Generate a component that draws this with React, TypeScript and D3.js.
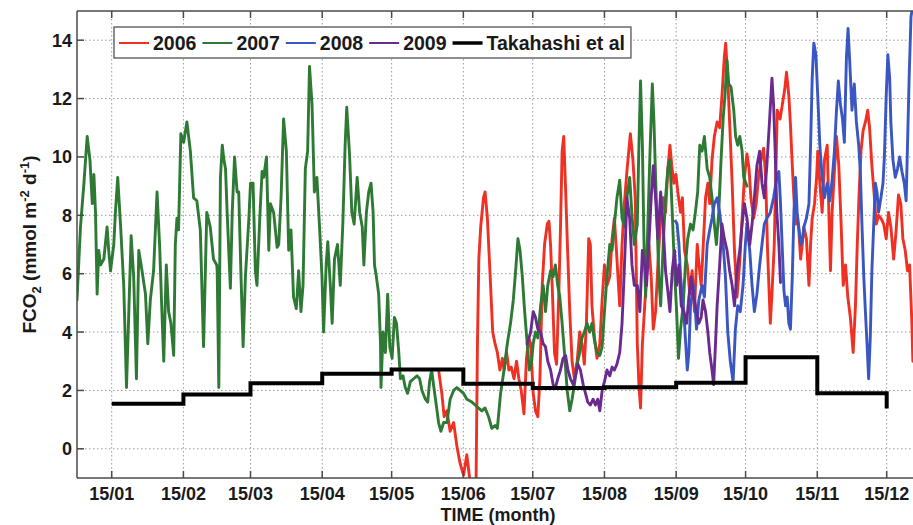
import React, { useEffect, useRef } from "react";
import * as d3 from "d3";

// x axis: day of (leap) year
const monthTickDays = [15, 46, 75, 106, 136, 167, 197, 228, 259, 289, 320, 350];
const monthTickLabels = ["15/01", "15/02", "15/03", "15/04", "15/05", "15/06", "15/07", "15/08", "15/09", "15/10", "15/11", "15/12"];
const yTickValues = [0, 2, 4, 6, 8, 10, 12, 14];

// Takahashi climatology (monthly levels, from 15th to 15th)
const takahashiStartDays = [15, 46, 75, 106, 136, 167, 197, 228, 259, 289, 320, 350];
const takahashiLevels = [1.54, 1.86, 2.25, 2.57, 2.72, 2.23, 2.08, 2.11, 2.26, 3.14, 1.9];
const takahashiEndValue = 1.38;

const series2006: [number, number][] = [
  [156.3,2.7],[157.7,1.9],[158.7,1.1],[159.9,1.3],[161.3,0.6],[162.8,0.9],[164.2,0.1],[165.6,-0.5],[167.1,-0.9],[168.5,-0.2],[170.0,-1.2],[171.4,-2.0],[172.5,-1.2],[173.1,3.6],[173.7,6.5],[174.5,7.6],[175.7,8.6],[176.4,8.8],[177.4,7.9],[178.6,5.9],[179.7,4.0],[180.7,3.6],
  [181.7,3.3],[182.8,2.7],[183.9,3.1],[184.6,2.7],[185.7,3.3],[186.7,2.7],[187.7,2.8],[188.9,2.4],[190.0,3.0],[191.0,2.4],[192.0,2.0],[193.2,1.2],[194.3,3.1],[195.3,3.8],[196.1,3.6],[197.2,1.9],[198.2,1.3],[199.2,1.1],[200.1,2.4],[201.1,5.6],[202.1,7.0],[203.3,7.7],[204.0,7.8],[204.7,7.0],[205.4,5.6],[206.4,3.3],[207.3,2.9],[208.3,5.4],[209.0,7.6],[209.7,10.2],[210.4,10.7],[211.2,8.9],[211.9,7.2],[213.0,4.7],[214.0,3.0],[215.0,2.4],[216.2,3.0],[217.3,4.0],[218.3,3.6],[219.3,2.9],[220.2,4.3],[221.2,7.2],[221.9,7.0],[222.6,4.9],[223.7,3.8],[224.8,3.1],[226.0,3.6],[227.0,5.1],[228.0,6.3],[229.1,5.6],[230.3,5.9],[231.3,7.2],[232.3,7.9],[233.4,6.5],[234.6,4.9],[235.6,7.0],[236.6,8.4],[237.7,9.5],[239.2,10.8],[240.3,9.9],[241.3,8.6],
  [242.2,3.6],[242.9,2.2],[243.6,1.4],[244.4,3.6],[245.4,4.9],[246.2,5.9],[247.2,7.0],[248.2,5.9],[249.1,4.1],[250.1,4.7],[251.1,6.3],[252.3,7.9],[253.4,8.6],[254.4,8.1],[255.4,9.6],[256.3,10.4],[257.1,9.7],[258.0,9.1],[258.9,9.4],[259.7,8.8],[260.9,8.1],[261.7,8.6],[262.6,6.8],[263.8,6.3],[264.9,5.3],[265.9,6.1],[266.9,4.7],[268.1,7.0],[268.9,6.3],[269.8,5.6],[270.6,6.8],[271.7,8.6],[272.7,9.1],[273.5,8.4],[274.5,9.9],[275.5,10.7],[276.7,11.2],[277.8,11.0],[278.8,12.1],[279.8,13.4],[280.4,13.9],[281.3,12.7],[282.1,11.2],[283.2,9.1],[284.2,6.8],[285.3,5.2],[286.5,6.4],[287.5,7.9],[288.5,9.3],[289.6,10.1],[290.5,9.6],[291.3,8.6],[292.5,7.9],[293.6,8.4],[294.6,9.3],[295.7,9.9],[296.8,10.3],[297.7,9.3],[298.5,6.8],[299.7,4.3],[300.4,5.3],[301.4,7.0],
  [302.7,11.6],[303.9,11.3],[304.9,11.8],[305.9,12.3],[306.7,12.9],[307.7,12.1],[308.4,11.1],[309.2,9.7],[309.9,8.6],[310.6,7.7],[311.3,7.9],[312.0,7.5],[312.8,6.5],[313.5,7.0],[314.2,7.6],[315.3,7.2],[316.4,5.6],[317.1,7.0],[317.8,7.9],[318.8,8.4],[319.7,9.3],[320.2,10.2],[321.1,9.1],[322.1,8.1],[323.1,9.9],[324.3,10.4],[325.0,8.1],[325.7,6.1],[326.4,8.1],[327.4,9.5],[328.3,10.7],[329.3,9.7],[330.3,7.7],[331.2,5.6],[332.2,6.3],[333.2,5.2],[334.3,4.5],[335.5,3.3],[336.5,4.9],[337.2,6.8],[338.0,8.6],[338.9,10.2],[339.8,10.9],[340.8,11.2],[341.8,11.6],[342.6,11.0],[343.6,9.7],[344.7,8.6],[345.5,7.7],[346.5,8.0],[347.5,7.9],[348.7,7.7],[349.8,7.2],[350.8,8.1],[351.8,7.6],[353.0,6.5],[354.1,7.5],[355.1,8.7],[356.1,8.4],[357.0,7.2],[358.0,6.8],[359.0,6.1],[359.9,6.3],[360.9,4.3],[361.3,3.0]
];

const series2007: [number, number][] = [
  [0,5.1],[1.5,7.6],[3.0,9.1],[4.4,10.7],[5.6,9.9],[6.6,8.4],[7.3,9.4],[8.0,8.1],[8.7,5.3],[9.4,6.8],[10.2,6.3],[11.6,6.5],[13.0,7.6],[13.7,6.8],[14.5,6.1],[15.9,7.0],[16.6,8.1],[17.6,9.3],[18.8,7.7],[20.2,5.6],[21.4,2.1],[22.4,4.7],[23.4,7.3],[24.5,5.9],[25.7,2.4],[26.7,6.8],[28.1,6.1],[29.6,5.3],[30.6,3.6],[31.7,5.1],[33.1,6.1],[34.6,8.8],[35.7,7.0],[36.7,4.7],[37.5,3.0],[38.6,6.3],[39.6,4.7],[40.6,4.3],[41.8,3.2],[42.5,7.0],[43.2,7.9],[43.9,7.5],[44.9,10.8],[46.1,10.5],[47.5,11.2],[49.0,10.2],[50.4,8.6],[51.8,8.5],[53.3,7.5],[54.7,3.5],[56.1,8.1],[57.6,7.6],[59.0,6.5],[60.4,6.3],
  [60.6,6.1],[61.3,2.1],[62.0,9.3],[62.8,10.4],[63.5,9.9],[64.2,9.6],[64.9,8.1],[66.3,5.5],[67.1,8.1],[68.1,10.0],[69.2,8.8],[69.9,8.8],[70.9,5.9],[71.8,3.5],[72.8,5.9],[74.3,7.9],[75.0,9.1],[76.1,9.1],[77.1,6.1],[77.8,5.6],[79.0,7.9],[80.0,9.5],[80.7,9.3],[81.9,10.0],[82.9,6.8],[83.6,8.4],[85.0,8.1],[86.5,6.9],[87.2,7.0],[88.2,8.6],[89.3,11.3],[90.5,10.2],[91.5,6.8],[92.5,7.5],[93.6,5.2],[94.8,4.8],[95.8,6.1],[96.8,4.7],[97.7,5.6],[98.7,9.6],[99.7,10.2],[100.5,13.1],[101.6,11.8],[102.6,8.8],[103.7,9.3],[104.9,7.5],[105.9,5.9],[106.6,4.0],[107.7,6.3],[108.4,7.1],[109.5,5.6],[110.3,4.3],[111.3,6.5],[112.6,7.0],[113.8,5.6],[114.9,7.7],[115.9,10.4],[116.6,11.7],[117.8,10.1],[118.8,8.1],[119.8,7.7],
  [121.1,9.3],[122.2,8.1],[123.3,7.6],[124.0,6.3],[125.1,8.1],[126.1,8.8],[127.1,9.1],[128.0,8.1],[128.6,6.3],[129.4,5.9],[130.4,5.3],[131.2,3.6],[131.4,2.1],[132.3,4.0],[133.3,3.3],[134.3,5.3],[135.2,3.5],[136.2,3.1],[137.2,4.5],[138.1,4.3],[139.1,3.3],[139.8,2.4],[140.9,2.5],[141.9,2.1],[142.9,1.9],[144.1,2.3],[145.5,2.4],[147.0,2.5],[148.1,2.4],[149.1,2.0],[150.6,1.7],[151.6,1.6],[152.4,2.3],[153.3,2.7],[154.1,2.2],[155.3,1.5],[156.3,0.9],[157.3,0.6],[158.5,0.9],[159.9,0.9],[161.3,1.7],[162.8,2.0],[164.2,2.1],[165.6,2.0],[167.1,1.9],[168.5,1.7],[170.7,1.6],[172.1,1.5],[173.5,1.4],[175.0,1.3],[176.4,1.4],[177.9,1.1],[179.3,0.7],[180.7,0.8],
  [181.7,0.7],[183.1,1.9],[184.6,2.7],[186.0,3.6],[187.4,4.3],[188.6,5.1],[189.6,6.1],[190.6,7.2],[191.5,6.8],[192.5,5.9],[193.5,4.7],[194.6,3.6],[195.5,2.7],[196.4,2.9],[197.2,3.6],[198.2,4.0],[199.2,3.8],[200.4,4.9],[201.5,5.6],[202.5,4.7],[203.5,5.6],[204.7,6.1],[205.8,5.9],[206.8,6.3],[207.8,5.6],[208.7,5.2],[209.7,4.3],[210.7,3.3],[211.9,2.0],[213.0,1.3],[214.0,1.7],[215.0,2.2],[216.2,2.9],[217.3,3.3],[218.3,3.8],[219.3,4.0],[220.5,4.3],[221.6,4.0],[222.6,4.3],[223.7,3.7],[224.8,3.3],[226.0,3.2],[227.0,3.5],[228.0,4.7],[229.1,5.9],[230.3,7.0],[231.3,6.8],[232.3,7.7],[233.4,8.6],[234.6,9.2],[235.6,7.9],[236.6,7.6],[237.7,8.6],[238.9,9.3],[239.9,8.0],[240.9,7.0],
  [242.2,7.7],[242.9,10.4],[243.6,12.6],[244.4,10.4],[245.1,7.0],[245.8,5.2],[246.5,7.0],[247.7,10.2],[248.7,12.5],[249.4,11.2],[250.1,9.3],[250.8,7.6],[251.5,5.9],[252.3,4.9],[253.4,7.0],[254.4,8.6],[255.4,9.6],[256.3,9.9],[257.3,8.1],[258.3,6.1],[259.2,4.7],[260.0,3.1],[260.9,4.1],[262.0,4.9],[263.0,6.3],[264.0,7.2],[265.2,7.7],[266.3,7.5],[267.3,8.1],[268.3,8.8],[269.2,10.4],[270.2,10.2],[271.2,10.7],[272.4,9.6],[273.5,9.3],[274.5,8.6],[275.5,7.7],[276.4,7.0],[277.4,8.1],[278.4,9.9],[279.3,11.3],[280.1,12.1],[281.0,13.3],[281.7,12.5],[282.7,12.4],[283.9,11.6],[284.7,10.7],[285.6,10.4],[286.5,10.7],[287.5,10.2],[288.2,9.3],[289.6,9.0]
];

const series2008: [number, number][] = [
  [258.7,7.8],[259.4,7.7],[260.2,7.0],[260.9,5.9],[262.3,4.7],[263.8,2.7],[264.5,3.3],[265.2,4.9],[266.6,5.6],[267.8,4.1],[268.8,5.1],[270.2,5.6],[271.2,5.2],[272.4,7.0],[273.5,7.5],[274.5,7.9],[275.5,8.4],[276.7,8.6],[277.8,8.1],[279.3,7.0],[280.3,5.9],[281.3,4.0],[282.4,3.0],[283.6,2.3],[284.6,4.1],[285.6,4.9],[286.7,4.7],[287.9,5.6],[288.9,7.0],[289.6,7.7],[290.8,6.8],[291.8,5.6],[292.8,4.7],[293.9,5.3],[295.1,6.3],[296.1,7.0],[297.1,7.7],[298.2,7.9],[299.7,8.1],[301.1,8.6],[302.5,9.3],
  [303.4,9.5],[304.1,8.4],[304.9,6.8],[305.6,5.4],[306.3,4.9],[307.0,5.2],[307.7,4.3],[308.4,4.1],[309.2,5.9],[309.9,8.1],[310.6,9.3],[311.3,8.1],[312.0,7.6],[312.8,7.0],[313.5,7.1],[314.2,7.6],[315.3,7.9],[316.4,8.4],[317.1,10.4],[317.8,12.7],[318.5,13.9],[319.4,13.5],[320.2,12.1],[321.1,10.4],[322.1,9.3],[323.1,8.6],[324.3,9.1],[325.4,8.5],[326.4,9.2],[327.4,10.2],[328.3,11.6],[329.1,12.6],[330.0,11.8],[330.9,11.3],[331.7,10.5],[332.6,13.4],[333.3,14.4],[334.0,13.3],[335.0,11.6],[336.0,12.5],[336.9,11.2],[337.9,10.4],[338.6,9.5],[339.3,7.7],[340.1,5.9],[340.8,4.7],[341.5,3.6],[342.2,2.4],[342.9,3.8],[343.6,6.1],[344.4,7.7],[345.1,9.1],[345.8,8.8],[346.5,8.1],[347.5,8.6],[348.4,9.1],[349.0,10.0],[349.8,12.1],[350.5,13.5],[351.3,12.7],[351.8,11.2],[352.7,9.9],[353.7,9.3],[354.7,9.6],[355.6,10.0],[356.6,9.5],[357.6,9.1],[358.4,8.5],[359.0,10.4],[359.7,12.7],[360.5,14.8],[361.3,15.2]
];

const series2009: [number, number][] = [
  [194.6,3.6],[196.1,4.0],[197.2,4.7],[198.2,4.5],[199.2,4.1],[200.4,4.0],[201.5,3.6],[202.5,3.5],[203.5,3.0],[204.7,2.7],[205.8,2.2],[206.8,2.1],[207.8,2.4],[209.0,2.7],[210.1,3.1],[211.2,3.2],[212.2,2.7],[213.3,2.4],[214.5,2.2],[215.5,2.5],[216.5,2.9],[217.6,2.7],[218.8,2.2],[219.8,1.9],[220.8,1.6],[221.9,1.5],[223.1,1.7],[224.1,1.5],[225.1,1.7],[226.0,1.3],[227.0,2.0],[228.0,2.3],[229.1,2.7],[230.3,2.5],[231.3,2.8],[232.3,2.7],[233.4,2.9],[234.6,3.3],[235.6,4.3],[236.3,5.6],[237.0,7.0],[237.7,8.6],[238.9,7.9],[239.9,6.3],[240.9,5.6],
  [242.2,5.6],[243.3,4.7],[244.4,6.8],[245.4,6.3],[246.2,5.6],[247.2,7.0],[248.2,8.6],[249.1,9.7],[250.1,8.6],[251.1,7.2],[252.3,8.8],[253.4,7.6],[254.4,6.1],[255.4,5.4],[256.3,4.7],[257.3,6.1],[258.3,6.8],[259.2,5.6],[260.2,6.3],[261.2,4.9],[262.3,4.7],[263.5,4.3],[264.5,5.2],[265.5,5.9],[266.6,5.2],[267.8,4.7],[268.8,4.3],[269.8,4.5],[270.6,5.1],[271.7,4.7],[272.7,4.0],[273.5,3.3],[274.5,2.7],[275.2,2.2],[276.0,3.6],[276.7,4.9],[277.8,6.3],[278.8,7.7],[279.8,7.2],[281.0,6.8],[282.1,6.1],[283.2,5.6],[284.2,4.9],[285.3,6.1],[286.5,6.8],[287.5,7.7],[288.5,8.4],[289.6,7.9],[290.8,7.0],[291.8,7.7],[292.8,8.6],[293.9,9.7],[295.1,10.2],[296.1,9.1],[297.1,8.6],[298.2,9.7],[299.4,11.3],[300.4,12.7],[301.1,11.8],[301.8,10.2],[302.5,8.1],[303.4,7.0],[304.1,5.7]
];

const legendLabels = ["2006", "2007", "2008", "2009", "Takahashi et al"];
const seriesColors = ["#ef3124", "#2e7a34", "#3a56c2", "#6a2b91", "#000000"];

const FONT = "'Liberation Sans', Arial, Helvetica, sans-serif";

export default function App() {
  const ref = useRef<SVGSVGElement>(null);

  useEffect(() => {
    const svg = d3.select(ref.current);
    svg.selectAll("*").remove();

    const left = 77, top = 11, bottom = 478;
    const right = 77 + 366 * 2.3134;
    const x = d3.scaleLinear().domain([0, 366]).range([left, right]);
    const y = d3.scaleLinear().domain([-1, 15]).range([bottom, top]);

    svg.append("rect").attr("width", 913).attr("height", 525).attr("fill", "#fff");

    const defs = svg.append("defs");
    defs.append("clipPath").attr("id", "plotclip")
      .append("rect").attr("x", left).attr("y", top).attr("width", right - left).attr("height", bottom - top);

    // grid
    const grid = svg.append("g").attr("stroke", "#9a9a9a").attr("stroke-width", 1).attr("stroke-dasharray", "1.5,2.5");
    monthTickDays.forEach(d => {
      grid.append("line").attr("x1", x(d)).attr("x2", x(d)).attr("y1", top).attr("y2", bottom);
    });
    yTickValues.forEach(v => {
      grid.append("line").attr("x1", left).attr("x2", right).attr("y1", y(v)).attr("y2", y(v));
    });

    // data
    const line = d3.line<[number, number]>().x(d => x(d[0])).y(d => y(d[1]));
    const gData = svg.append("g").attr("clip-path", "url(#plotclip)");
    const allSeries = [series2006, series2007, series2008, series2009];
    allSeries.forEach((s, i) => {
      gData.append("path").datum(s).attr("d", line).attr("fill", "none")
        .attr("stroke", seriesColors[i]).attr("stroke-width", 2.9)
        .attr("stroke-linejoin", "round").attr("stroke-linecap", "round");
    });

    const tak: [number, number][] = takahashiLevels.map((v, i) => [takahashiStartDays[i], v] as [number, number]);
    tak.push([takahashiStartDays[takahashiLevels.length], takahashiLevels[takahashiLevels.length - 1]]);
    tak.push([takahashiStartDays[takahashiLevels.length], takahashiEndValue]);
    const stepLine = d3.line<[number, number]>().x(d => x(d[0])).y(d => y(d[1])).curve(d3.curveStepAfter);
    gData.append("path").datum(tak).attr("d", stepLine).attr("fill", "none")
      .attr("stroke", "#000").attr("stroke-width", 4).attr("stroke-linejoin", "miter");

    // frame
    const frame = svg.append("g").attr("stroke", "#4a4a4a").attr("stroke-width", 1.5).attr("fill", "none");
    frame.append("line").attr("x1", left).attr("x2", right).attr("y1", top).attr("y2", top);
    frame.append("line").attr("x1", left).attr("x2", right).attr("y1", bottom).attr("y2", bottom);
    frame.append("line").attr("x1", left).attr("x2", left).attr("y1", top).attr("y2", bottom);
    monthTickDays.forEach(d => {
      frame.append("line").attr("x1", x(d)).attr("x2", x(d)).attr("y1", bottom).attr("y2", bottom - 7);
      frame.append("line").attr("x1", x(d)).attr("x2", x(d)).attr("y1", top).attr("y2", top + 7);
    });
    yTickValues.forEach(v => {
      frame.append("line").attr("x1", left).attr("x2", left + 7).attr("y1", y(v)).attr("y2", y(v));
    });

    // tick labels
    const tl = svg.append("g").attr("font-family", FONT).attr("font-weight", "bold").attr("font-size", 18).attr("fill", "#1a1a1a");
    monthTickDays.forEach((d, i) => {
      tl.append("text").attr("x", x(d)).attr("y", 499.5).attr("text-anchor", "middle").text(monthTickLabels[i]);
    });
    yTickValues.forEach(v => {
      tl.append("text").attr("x", 72).attr("y", y(v) + 6.5).attr("text-anchor", "end").text(String(v));
    });

    // axis titles
    tl.append("text").attr("x", 498).attr("y", 521).attr("text-anchor", "middle").text("TIME (month)");
    const yl = tl.append("text").attr("transform", `translate(36,${(top + bottom) / 2}) rotate(-90)`).attr("text-anchor", "middle").attr("font-size", 19);
    yl.append("tspan").text("FCO");
    yl.append("tspan").attr("font-size", 13).attr("dy", 5).text("2");
    yl.append("tspan").attr("dy", -5).text(" (mmol m");
    yl.append("tspan").attr("font-size", 13).attr("dy", -7).text("-2");
    yl.append("tspan").attr("dy", 7).text(" d");
    yl.append("tspan").attr("font-size", 13).attr("dy", -7).text("-1");
    yl.append("tspan").attr("dy", 7).text(")");

    // legend
    const lg = svg.append("g");
    const box = lg.append("rect").attr("x", 114).attr("y", 27).attr("height", 31).attr("fill", "#fff")
      .attr("stroke", "#6a6a6a").attr("stroke-width", 1.5);
    let cx = 119;
    legendLabels.forEach((lab, i) => {
      lg.append("line").attr("x1", cx).attr("x2", cx + 30).attr("y1", 43).attr("y2", 43)
        .attr("stroke", seriesColors[i]).attr("stroke-width", i === 4 ? 3.5 : 2);
      const t = lg.append("text").attr("x", cx + 34).attr("y", 49.5).attr("font-family", FONT)
        .attr("font-weight", "bold").attr("font-size", 19.5).attr("fill", "#1a1a1a").text(lab);
      const w = (t.node() as SVGTextElement).getComputedTextLength();
      cx = cx + 34 + w + 6;
    });
    box.attr("width", cx - 114);
  }, []);

  return (
    <div style={{ position: "absolute", left: 0, top: 0, width: 913, height: 525, overflow: "hidden", background: "#fff" }}>
      <svg ref={ref} width={913} height={525} style={{ display: "block" }} />
    </div>
  );
}
